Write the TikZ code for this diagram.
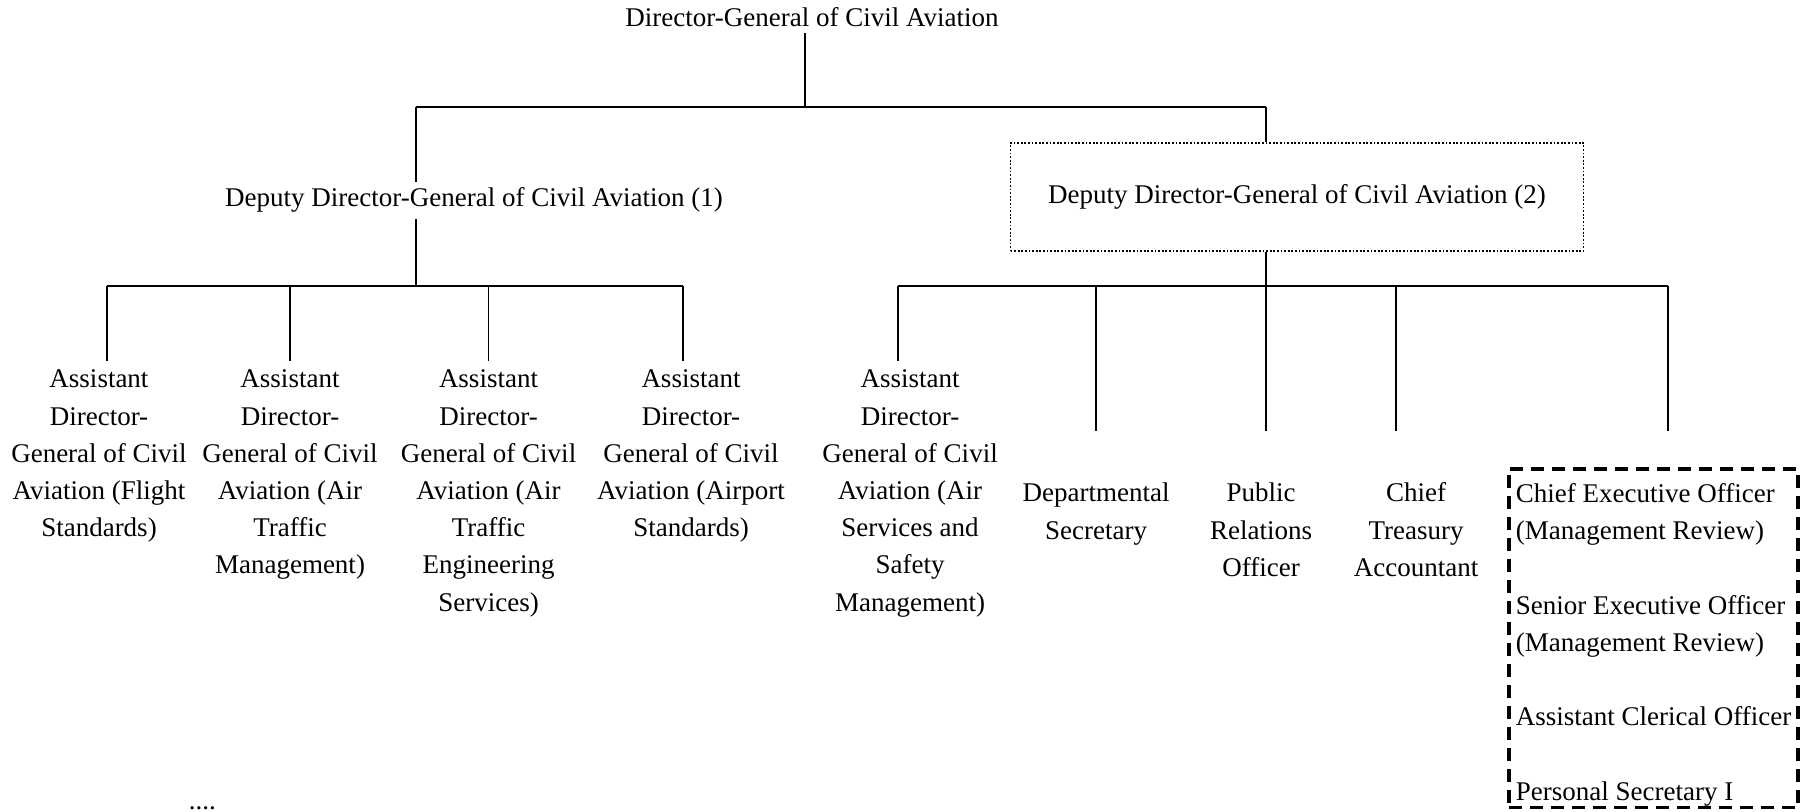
\documentclass[tikz,border=0pt]{standalone}
\usepackage{fontspec}
\setmainfont{Liberation Serif}
\newcommand\orgfont{\fontsize{13.5}{18.6}\selectfont}

\begin{document}
\begin{tikzpicture}[x=0.5pt, y=-0.5pt, line width=0.85pt, font=\orgfont,
  bus/.style={line width=1.25pt},
  leaf/.style={align=center, anchor=north, inner sep=0pt},
  dotbox/.style={draw, line width=0.9pt, dash pattern=on 0.9pt off 0.9pt,
    minimum width=286.5pt, minimum height=54pt},
  dashbox/.style={draw, line width=1.8pt, dash pattern=on 6.5pt off 4pt,
    align=left, anchor=north west, inner xsep=3.5pt, inner ysep=0.75pt}]
\useasboundingbox (0,0) rectangle (1813,812);

% top level
\node[anchor=base, inner ysep=2.5pt] (dg) at (812,27) {Director-General of Civil Aviation};
\coordinate (j0) at (805,107);
\coordinate (b1l) at (416,107);
\coordinate (b1r) at (1266,107);
\draw (j0 |- dg.south) -- (j0);
\draw[bus] (b1l) -- (b1r);

% the two deputies
\node[anchor=base, inner ysep=2.5pt] (dd1) at (474,207) {Deputy Director-General of Civil Aviation (1)};
\node[dotbox] (dd2) at (1297,197) {Deputy Director-General of Civil Aviation (2)};
\draw (b1l) -- (b1l |- dd1.north);
\draw (b1r) -- (b1r |- dd2.north);

% under deputy (1)
\coordinate (b2l) at (107,286);
\coordinate (b2r) at (683,286);
\draw (b1l |- dd1.south) -- (b1l |- b2l);
\draw[bus] (b2l) -- (b2r);

\node[leaf] (adg1) at (99,361) {\strut Assistant\\Director-\\General of Civil\\Aviation (Flight\\Standards)};
\node[leaf] (adg2) at (290,361) {\strut Assistant\\Director-\\General of Civil\\Aviation (Air\\Traffic\\Management)};
\node[leaf] (adg3) at (488.5,361) {\strut Assistant\\Director-\\General of Civil\\Aviation (Air\\Traffic\\Engineering\\Services)};
\node[leaf] (adg4) at (691,361) {\strut Assistant\\Director-\\General of Civil\\Aviation (Airport\\Standards)};

\draw (b2l) -- (b2l |- adg1.north);
\draw (adg2.north |- b2l) -- (adg2.north);
\draw (adg3.north |- b2l) -- (adg3.north);
\draw (b2r) -- (b2r |- adg4.north);

% under deputy (2)
\coordinate (b3l) at (898,286);
\coordinate (b3r) at (1668,286);
\coordinate (tip) at (0,431);
\draw (b1r |- dd2.south) -- (b1r |- b3l);
\draw[bus] (b3l) -- (b3r);

\node[leaf] (adg5) at (910,361) {\strut Assistant\\Director-\\General of Civil\\Aviation (Air\\Services and\\Safety\\Management)};
\node[leaf] (dsec) at (1096,475) {\strut Departmental\\Secretary};
\node[leaf] (pro) at (1261,475) {\strut Public\\Relations\\Officer};
\node[leaf] (cta) at (1416,475) {\strut Chief\\Treasury\\Accountant};
\node[dashbox] (mrbox) at (1507,467) {\rule{0pt}{16.2pt}Chief Executive Officer\\(Management Review)\\[18.6pt]
  Senior Executive Officer\\(Management Review)\\[18.6pt]
  Assistant Clerical Officer\\[18.6pt]
  Personal Secretary I};

\draw (b3l) -- (b3l |- adg5.north);
\draw (dsec.north |- b3l) -- (dsec.north |- tip);
\draw (b1r |- b3l) -- (b1r |- tip);
\draw ([xshift=-10pt]cta.north |- b3l) -- ([xshift=-10pt]cta.north |- tip);
\draw (b3r) -- (b3r |- tip);

\node[anchor=base west, inner sep=0pt] (dots) at (188,809) {....};
\end{tikzpicture}
\end{document}
